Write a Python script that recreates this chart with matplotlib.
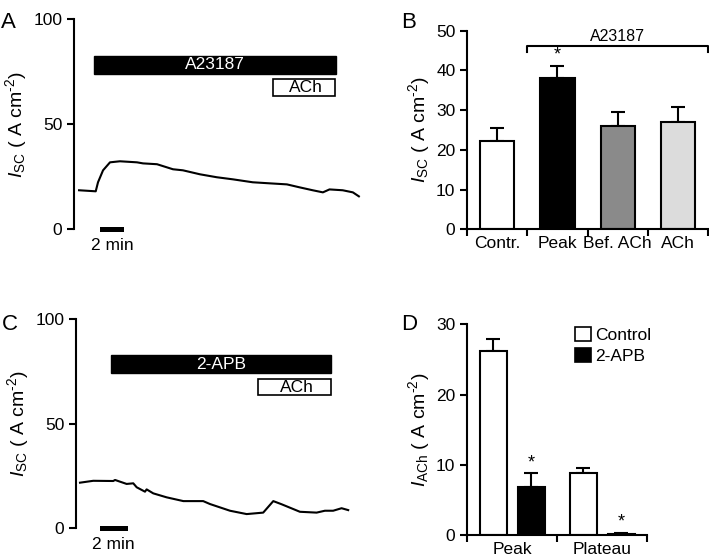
import matplotlib
matplotlib.use("Agg")
import matplotlib.pyplot as plt
from matplotlib.patches import Rectangle, Patch

plt.rcParams['font.family'] = ['Liberation Sans', 'DejaVu Sans']
plt.rcParams['font.size'] = 12.5
plt.rcParams['mathtext.fontset'] = 'custom'
plt.rcParams['mathtext.rm'] = 'Liberation Sans'
plt.rcParams['mathtext.it'] = 'Liberation Sans:italic'
plt.rcParams['mathtext.bf'] = 'Liberation Sans:bold'

# ---- Panel A trace (time in min, Isc) ----
a_time = [0.42, 1.81, 2.0, 2.42, 3.0, 3.83, 5.25, 5.75, 6.92, 8.25, 9.08, 10.5, 11.9,
          13.25, 14.9, 16.3, 17.75, 18.8, 19.9, 20.75, 21.3, 22.4, 23.25, 23.75]
a_isc = [18.6, 18.1, 22.4, 28.1, 31.9, 32.4, 31.9, 31.4, 31.0, 28.6, 28.1, 26.2, 24.8,
         23.8, 22.4, 21.9, 21.4, 20.0, 18.6, 17.6, 19.0, 18.6, 17.6, 15.7]
a_drug = (1.69, 21.83)
a_ach = (16.56, 21.78)

# ---- Panel C trace ----
c_time = [0.29, 1.25, 2.70, 2.83, 3.67, 4.15, 4.40, 5.0, 5.12, 5.60, 6.57, 7.78, 9.22,
          9.71, 11.16, 12.37, 13.57, 14.30, 14.90, 16.23, 17.44, 18.04, 18.64, 19.25, 19.73]
c_isc = [21.8, 22.7, 22.6, 23.1, 21.2, 21.5, 19.6, 17.5, 18.6, 16.7, 14.8, 13.0, 13.0,
         11.6, 8.4, 6.8, 7.5, 13.0, 11.5, 7.9, 7.5, 8.4, 8.4, 9.6, 8.7]
c_drug = (2.51, 18.48)
c_ach = (13.21, 18.48)

# ---- Panel B ----
b_labels = ['Contr.', 'Peak', 'Bef. ACh', 'ACh']
b_values = [22.3, 38.0, 26.1, 26.9]
b_err = [3.1, 3.0, 3.5, 4.0]
b_colors = ['white', 'black', '#8a8a8a', '#dcdcdc']

# ---- Panel D ----
d_groups = ['Peak', 'Plateau']
d_control = [26.2, 8.8]
d_control_err = [1.7, 0.8]
d_apb = [6.8, 0.2]
d_apb_err = [2.0, 0.1]

LW = 1.5
YLAB_SC = r'$I_{\rm SC}$ ( A cm$^{\text{-}2}$)'
YLAB_ACH = r'$I_{\rm ACh}$ ( A cm$^{\text{-}2}$)'
fig = plt.figure(figsize=(7.09, 5.57), dpi=100)


def trace_panel(rect, t, y, xmax, drug, ach, drug_label, bar_min):
    ax = fig.add_axes(rect)
    ax.plot(t, y, color='black', lw=LW)
    ax.set_xlim(0, xmax)
    ax.set_ylim(0, 100)
    for s in ['top', 'right', 'bottom']:
        ax.spines[s].set_visible(False)
    ax.spines['left'].set_linewidth(LW)
    ax.set_xticks([])
    ax.set_yticks([0, 50, 100])
    ax.tick_params(axis='y', direction='out', length=5, width=LW, labelsize=12.5)
    ax.set_ylabel(YLAB_SC, fontsize=14, labelpad=3)
    ax.add_patch(Rectangle((drug[0], 74.2), drug[1] - drug[0], 8.4,
                           facecolor='black', edgecolor='black', lw=1))
    ax.text((drug[0] + drug[1]) / 2, 78.4, drug_label, color='white',
            ha='center', va='center', fontsize=12.5)
    ax.add_patch(Rectangle((ach[0], 63.6), ach[1] - ach[0], 7.9,
                           facecolor='white', edgecolor='black', lw=1.2))
    ax.text((ach[0] + ach[1]) / 2 + 0.2, 67.5, 'ACh', color='black',
            ha='center', va='center', fontsize=12.5)
    ax.add_patch(Rectangle((bar_min, -1.3), 2.0, 2.6, facecolor='black',
                           edgecolor='none', clip_on=False))
    ax.text(bar_min + 1.0, -4.0, '2 min', ha='center', va='top', fontsize=12.5)
    return ax


trace_panel([0.1044, 0.5883, 0.406, 0.377], a_time, a_isc, 24, a_drug, a_ach,
            'A23187', 2.17)
trace_panel([0.1072, 0.0515, 0.395, 0.3758], c_time, c_isc, 20.3, c_drug, c_ach,
            '2-APB', 1.74)

# ---- Panel B ----
axb = fig.add_axes([0.659, 0.5883, 0.3395, 0.3566])
xb = list(range(len(b_labels)))
axb.bar(xb, b_values, width=0.57, color=b_colors, edgecolor='black', lw=LW, zorder=2)
axb.errorbar(xb, b_values, yerr=[[0] * len(b_err), b_err], fmt='none',
             ecolor='black', elinewidth=LW, capsize=5, capthick=LW, zorder=1)
axb.set_xlim(-0.5, 3.5)
axb.set_ylim(0, 50)
for s in ['top', 'right']:
    axb.spines[s].set_visible(False)
for s in ['left', 'bottom']:
    axb.spines[s].set_linewidth(LW)
axb.set_yticks(range(0, 51, 10))
axb.set_xticks(xb)
axb.set_xticklabels(b_labels, fontsize=12.5)
axb.set_xticks([-0.5, 0.5, 1.5, 2.5, 3.5], minor=True)
axb.tick_params(axis='x', which='major', length=0, pad=5)
axb.tick_params(axis='x', which='minor', direction='out', length=5, width=LW)
axb.tick_params(axis='y', direction='out', length=5, width=LW, labelsize=12.5)
axb.set_ylabel(YLAB_SC, fontsize=14, labelpad=3)
axb.plot([0.5, 0.5, 3.5, 3.5], [44.7, 46.2, 46.2, 44.7], color='black', lw=LW,
         clip_on=False)
axb.text(2.0, 46.6, 'A23187', ha='center', va='bottom', fontsize=11.5)
axb.text(1, 41.8, '*', ha='center', va='bottom', fontsize=13)

# ---- Panel D ----
axd = fig.add_axes([0.659, 0.0395, 0.2539, 0.3783])
xd = list(range(len(d_groups)))
off = 0.21
w = 0.30
xc = [x - off for x in xd]
xa = [x + off for x in xd]
axd.bar(xc, d_control, width=w, color='white', edgecolor='black', lw=LW, zorder=2)
axd.bar(xa, d_apb, width=w, color='black', edgecolor='black', lw=LW, zorder=2)
axd.errorbar(xc, d_control, yerr=[[0, 0], d_control_err], fmt='none', ecolor='black',
             elinewidth=LW, capsize=5, capthick=LW, zorder=1)
axd.errorbar(xa, d_apb, yerr=[[0, 0], d_apb_err], fmt='none', ecolor='black',
             elinewidth=LW, capsize=5, capthick=LW, zorder=1)
axd.set_xlim(-0.5, 1.5)
axd.set_ylim(0, 30)
for s in ['top', 'right']:
    axd.spines[s].set_visible(False)
for s in ['left', 'bottom']:
    axd.spines[s].set_linewidth(LW)
axd.set_yticks([0, 10, 20, 30])
axd.set_xticks(xd)
axd.set_xticklabels(d_groups, fontsize=12.5)
axd.set_xticks([-0.5, 0.5, 1.5], minor=True)
axd.tick_params(axis='x', which='major', length=0, pad=5)
axd.tick_params(axis='x', which='minor', direction='out', length=5, width=LW)
axd.tick_params(axis='y', direction='out', length=5, width=LW, labelsize=12.5)
axd.set_ylabel(YLAB_ACH, fontsize=14, labelpad=3)
axd.text(xa[0], d_apb[0] + d_apb_err[0] + 0.3, '*', ha='center', va='bottom', fontsize=13)
axd.text(xa[1], d_apb[1] + d_apb_err[1] + 0.3, '*', ha='center', va='bottom', fontsize=13)
handles = [Patch(facecolor='white', edgecolor='black', lw=1.2, label='Control'),
           Patch(facecolor='black', edgecolor='black', lw=1.2, label='2-APB')]
axd.legend(handles=handles, loc='upper right', bbox_to_anchor=(1.06, 1.02), frameon=False,
           fontsize=12.5, handlelength=0.9, handleheight=0.9, handletextpad=0.25,
           labelspacing=0.25, borderaxespad=0)

# panel letters
for lbl, x, y in [('A', 0.002, 0.978), ('B', 0.566, 0.978), ('C', 0.002, 0.437),
                  ('D', 0.566, 0.437)]:
    fig.text(x, y, lbl, fontsize=16, ha='left', va='top')

fig.savefig('out.png', dpi=100)
